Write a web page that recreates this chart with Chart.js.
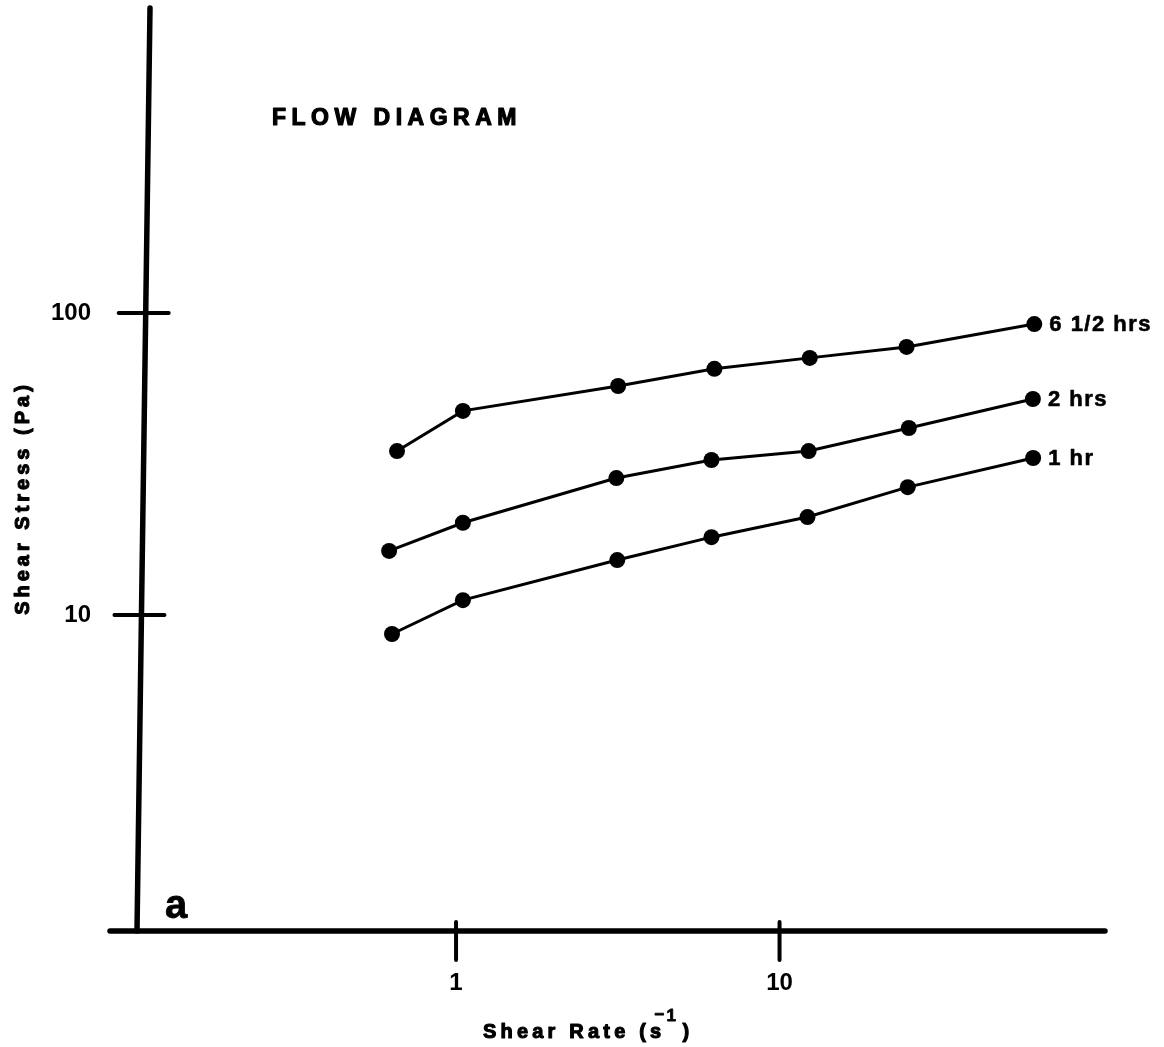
<!DOCTYPE html>
<html>
<head>
<meta charset="utf-8">
<script src="https://cdn.jsdelivr.net/npm/chart.js@4.4.1/dist/chart.umd.min.js"></script>
<style>
  html, body { margin: 0; padding: 0; background: #fff; }
  #wrap { width: 1164px; height: 1047px; position: relative; }
</style>
</head>
<body>
<div id="wrap"><canvas id="c" width="1164" height="1047"></canvas></div>
<script>
// Flow curves: shear stress (Pa) against shear rate (1/s) after different times
const seriesNames = ['6 1/2 hrs', '2 hrs', '1 hr'];
const rate65   = [0.657, 1.05, 3.17, 6.29, 12.4, 24.7, 61.3];
const stress65 = [34.9, 47.4, 57.3, 65.3, 71.0, 77.2, 91.9];
const rate2    = [0.621, 1.05, 3.13, 6.16, 12.3, 25.1, 60.7];
const stress2  = [16.3, 20.2, 28.4, 32.6, 34.9, 41.6, 51.9];
const rate1    = [0.634, 1.05, 3.15, 6.16, 12.2, 24.9, 60.8];
const stress1  = [8.65, 11.2, 15.2, 18.1, 21.1, 26.5, 33.1];
const xTickValues = [1, 10];
const yTickValues = [10, 100];
const chartTitle = 'FLOW DIAGRAM';
const panelLetter = 'a';
const xTitle = 'Shear Rate (s';
const yTitle = 'Shear Stress (Pa)';

const FONT = '"Liberation Sans", Arial, Helvetica, sans-serif';

function toPoints(xs, ys) {
  return xs.map((v, i) => ({ x: v, y: ys[i] }));
}

const seriesData = [
  toPoints(rate65, stress65),
  toPoints(rate2, stress2),
  toPoints(rate1, stress1)
];

// heavy text: fill plus a thin outline
function heavyText(ctx, txt, x, y, w) {
  ctx.fillText(txt, x, y);
  ctx.lineWidth = w;
  ctx.strokeText(txt, x, y);
}

// Axes, tick crosses, titles and curve labels
const decor = {
  id: 'decor',
  beforeDatasetsDraw(chart) {
    const { ctx, chartArea: a, scales: { x, y } } = chart;
    const axisTop = 8;
    const axisX = (py) => a.left + 6 - 13 * (py - axisTop) / (a.bottom - axisTop);
    ctx.save();
    ctx.strokeStyle = '#000';
    ctx.lineCap = 'round';
    ctx.lineWidth = 5.5;
    // vertical axis
    ctx.beginPath();
    ctx.moveTo(axisX(axisTop), axisTop);
    ctx.lineTo(axisX(a.bottom), a.bottom);
    ctx.stroke();
    // horizontal axis
    ctx.beginPath();
    ctx.moveTo(110, a.bottom);
    ctx.lineTo(a.right, a.bottom);
    ctx.stroke();
    // tick crosses
    ctx.lineWidth = 4;
    y.ticks.forEach(t => {
      const py = y.getPixelForValue(t.value);
      const cx = axisX(py);
      ctx.beginPath();
      ctx.moveTo(cx - 27, py);
      ctx.lineTo(cx + 23, py);
      ctx.stroke();
    });
    x.ticks.forEach(t => {
      const px = x.getPixelForValue(t.value);
      ctx.beginPath();
      ctx.moveTo(px, a.bottom - 9);
      ctx.lineTo(px, a.bottom + 29);
      ctx.stroke();
    });
    ctx.restore();
  },
  afterDraw(chart) {
    const { ctx, chartArea: a } = chart;
    ctx.save();
    ctx.fillStyle = '#000';
    ctx.strokeStyle = '#000';
    ctx.lineJoin = 'round';

    // chart title
    ctx.font = 'bold 23px ' + FONT;
    ctx.letterSpacing = '5.5px';
    ctx.textAlign = 'left';
    ctx.textBaseline = 'middle';
    heavyText(ctx, chartTitle, 272, 119, 1.2);

    // curve labels at the last point of each curve
    ctx.font = 'bold 22px ' + FONT;
    ctx.letterSpacing = '1.5px';
    seriesNames.forEach((name, i) => {
      const pts = chart.getDatasetMeta(i).data;
      const last = pts[pts.length - 1];
      heavyText(ctx, name, last.x + 15, last.y + 1, 0.6);
    });

    // panel letter
    ctx.letterSpacing = '0px';
    ctx.font = 'bold 40px ' + FONT;
    ctx.textBaseline = 'alphabetic';
    heavyText(ctx, panelLetter, a.left + 21, a.bottom - 13, 0.8);

    // x-axis title with superscript
    ctx.font = 'bold 20px ' + FONT;
    ctx.letterSpacing = '4.2px';
    ctx.textBaseline = 'alphabetic';
    let tx = 483;
    const base = 1038;
    heavyText(ctx, xTitle, tx, base, 1.1);
    tx += ctx.measureText(xTitle).width - 7;
    ctx.font = 'bold 17px ' + FONT;
    ctx.letterSpacing = '1px';
    heavyText(ctx, '\u2212', tx - 4, base - 18, 0.8);
    heavyText(ctx, '1', tx + 8, base - 17, 0.8);
    tx += 24;
    ctx.font = 'bold 20px ' + FONT;
    heavyText(ctx, ')', tx, base, 1.1);

    // y-axis title
    ctx.translate(23, 498);
    ctx.rotate(-Math.PI / 2);
    ctx.font = 'bold 20px ' + FONT;
    ctx.letterSpacing = '4px';
    ctx.textAlign = 'center';
    ctx.textBaseline = 'middle';
    heavyText(ctx, yTitle, 0, 0, 1.1);
    ctx.restore();
  }
};

new Chart(document.getElementById('c'), {
  type: 'scatter',
  data: {
    datasets: seriesData.map((d, i) => ({
      label: seriesNames[i],
      data: d,
      showLine: true,
      tension: 0,
      borderColor: '#000',
      borderWidth: 3,
      pointRadius: 8,
      pointBackgroundColor: '#000',
      pointBorderColor: '#000',
      pointBorderWidth: 0
    }))
  },
  options: {
    responsive: false,
    animation: false,
    layout: { padding: { left: 0, right: 59, top: 10, bottom: 0 } },
    plugins: {
      legend: { display: false },
      tooltip: { enabled: false },
      title: { display: false }
    },
    scales: {
      x: {
        type: 'logarithmic',
        position: 'bottom',
        bounds: 'data',
        min: 0.1085,
        max: 101.4,
        grid: { display: false, drawTicks: false },
        border: { display: false },
        afterBuildTicks: s => { s.ticks = xTickValues.map(v => ({ value: v })); },
        afterFit: s => {
          s.height = 116;
          s.paddingLeft = 0; s.paddingRight = 0;
        },
        ticks: {
          color: '#000',
          font: { family: FONT, size: 24, weight: 'bold' },
          padding: 38,
          maxRotation: 0,
          autoSkip: false,
          callback: v => String(v)
        }
      },
      y: {
        type: 'logarithmic',
        position: 'left',
        bounds: 'data',
        min: 0.899,
        max: 1007,
        grid: { display: false, drawTicks: false },
        border: { display: false },
        afterBuildTicks: s => { s.ticks = yTickValues.map(v => ({ value: v })); },
        afterFit: s => {
          s.width = 144;
          s.paddingTop = 0; s.paddingBottom = 0;
        },
        ticks: {
          color: '#000',
          font: { family: FONT, size: 24, weight: 'bold' },
          padding: 53,
          autoSkip: false,
          callback: v => String(v)
        }
      }
    }
  },
  plugins: [decor]
});
</script>
</body>
</html>
